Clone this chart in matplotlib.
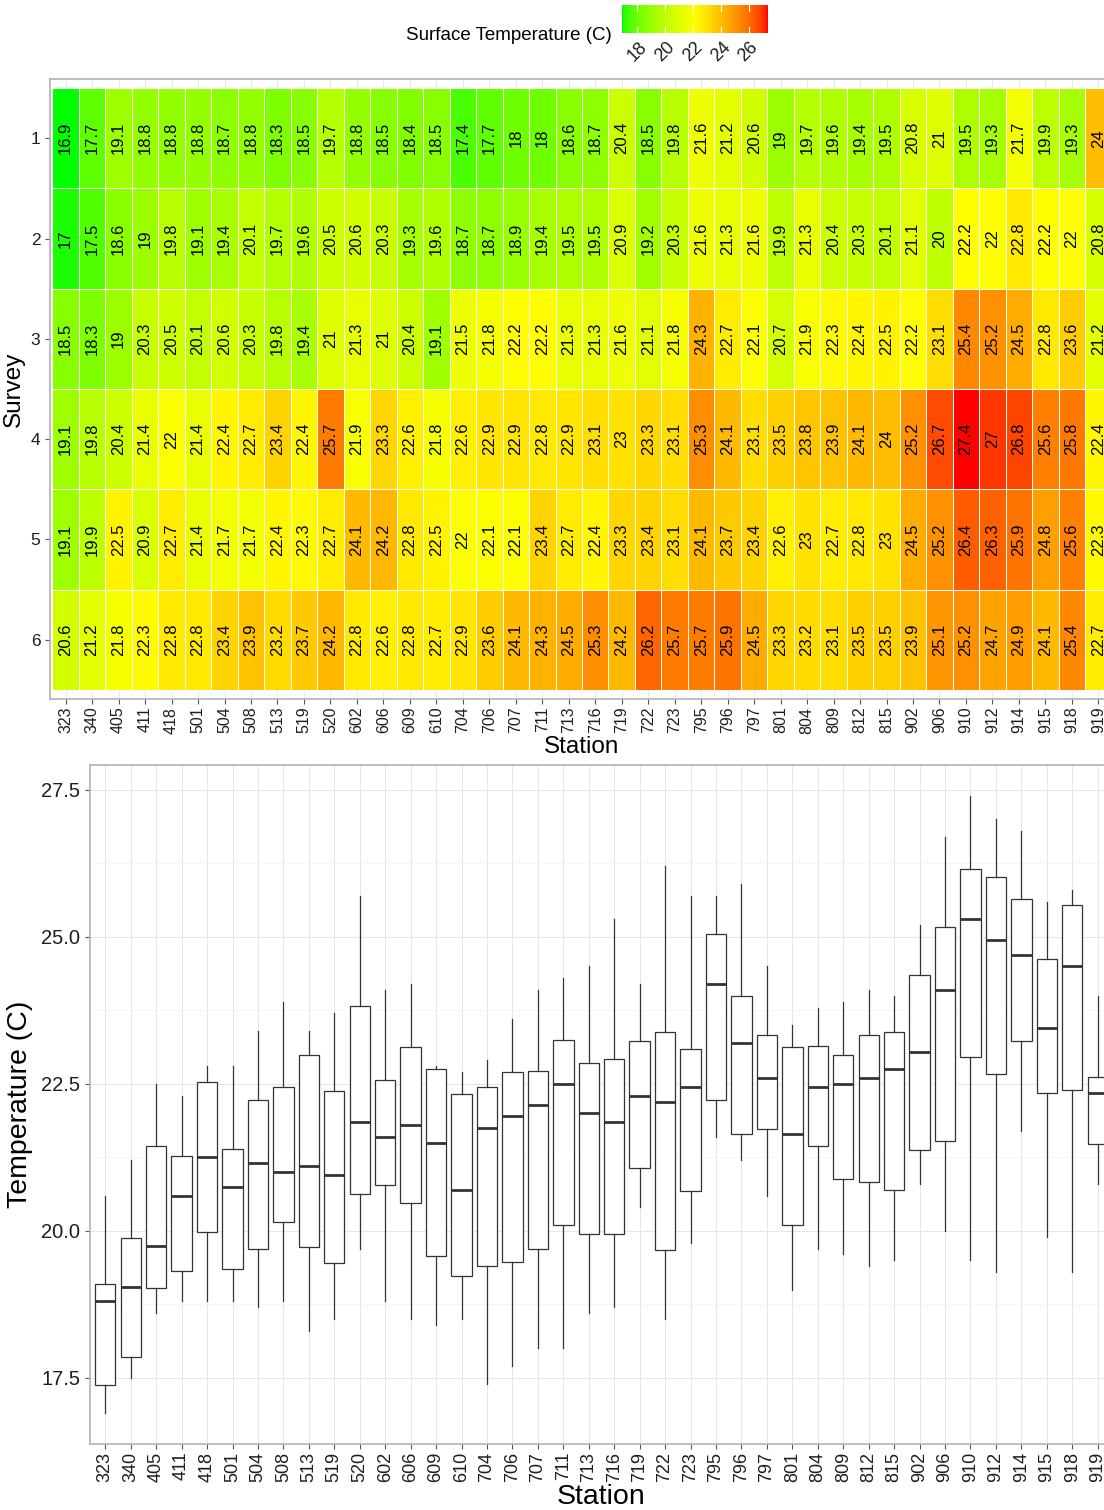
import numpy as np
import matplotlib
matplotlib.use("Agg")
import matplotlib.pyplot as plt
from matplotlib.colors import ListedColormap, to_rgb

plt.rcParams["font.family"] = ["Liberation Sans", "DejaVu Sans"]

stations = ["323", "340", "405", "411", "418", "501", "504", "508", "513", "519",
            "520", "602", "606", "609", "610", "704", "706", "707", "711", "713",
            "716", "719", "722", "723", "795", "796", "797", "801", "804", "809",
            "812", "815", "902", "906", "910", "912", "914", "915", "918", "919"]
surveys = [1, 2, 3, 4, 5, 6]

survey1 = [16.9, 17.7, 19.1, 18.8, 18.8, 18.8, 18.7, 18.8, 18.3, 18.5,
           19.7, 18.8, 18.5, 18.4, 18.5, 17.4, 17.7, 18, 18, 18.6,
           18.7, 20.4, 18.5, 19.8, 21.6, 21.2, 20.6, 19, 19.7, 19.6,
           19.4, 19.5, 20.8, 21, 19.5, 19.3, 21.7, 19.9, 19.3, 24]
survey2 = [17, 17.5, 18.6, 19, 19.8, 19.1, 19.4, 20.1, 19.7, 19.6,
           20.5, 20.6, 20.3, 19.3, 19.6, 18.7, 18.7, 18.9, 19.4, 19.5,
           19.5, 20.9, 19.2, 20.3, 21.6, 21.3, 21.6, 19.9, 21.3, 20.4,
           20.3, 20.1, 21.1, 20, 22.2, 22, 22.8, 22.2, 22, 20.8]
survey3 = [18.5, 18.3, 19, 20.3, 20.5, 20.1, 20.6, 20.3, 19.8, 19.4,
           21, 21.3, 21, 20.4, 19.1, 21.5, 21.8, 22.2, 22.2, 21.3,
           21.3, 21.6, 21.1, 21.8, 24.3, 22.7, 22.1, 20.7, 21.9, 22.3,
           22.4, 22.5, 22.2, 23.1, 25.4, 25.2, 24.5, 22.8, 23.6, 21.2]
survey4 = [19.1, 19.8, 20.4, 21.4, 22, 21.4, 22.4, 22.7, 23.4, 22.4,
           25.7, 21.9, 23.3, 22.6, 21.8, 22.6, 22.9, 22.9, 22.8, 22.9,
           23.1, 23, 23.3, 23.1, 25.3, 24.1, 23.1, 23.5, 23.8, 23.9,
           24.1, 24, 25.2, 26.7, 27.4, 27, 26.8, 25.6, 25.8, 22.4]
survey5 = [19.1, 19.9, 22.5, 20.9, 22.7, 21.4, 21.7, 21.7, 22.4, 22.3,
           22.7, 24.1, 24.2, 22.8, 22.5, 22, 22.1, 22.1, 23.4, 22.7,
           22.4, 23.3, 23.4, 23.1, 24.1, 23.7, 23.4, 22.6, 23, 22.7,
           22.8, 23, 24.5, 25.2, 26.4, 26.3, 25.9, 24.8, 25.6, 22.3]
survey6 = [20.6, 21.2, 21.8, 22.3, 22.8, 22.8, 23.4, 23.9, 23.2, 23.7,
           24.2, 22.8, 22.6, 22.8, 22.7, 22.9, 23.6, 24.1, 24.3, 24.5,
           25.3, 24.2, 26.2, 25.7, 25.7, 25.9, 24.5, 23.3, 23.2, 23.1,
           23.5, 23.5, 23.9, 25.1, 25.2, 24.7, 24.9, 24.1, 25.4, 22.7]

temps = np.array([survey1, survey2, survey3, survey4, survey5, survey6])
tmin, tmax = temps.min(), temps.max()

# green -> yellow -> red, interpolated in CIE Lab
WHITE = np.array([0.95047, 1.0, 1.08883])
M = np.array([[0.4124, 0.3576, 0.1805],
              [0.2126, 0.7152, 0.0722],
              [0.0193, 0.1192, 0.9505]])


def to_lab(c):
    c = np.asarray(c, float)
    lin = np.where(c <= 0.04045, c / 12.92, ((c + 0.055) / 1.055) ** 2.4)
    xyz = M @ lin / WHITE
    f = np.where(xyz > 0.008856, np.cbrt(xyz), 7.787 * xyz + 16 / 116)
    return np.array([116 * f[1] - 16, 500 * (f[0] - f[1]), 200 * (f[1] - f[2])])


def from_lab(lab):
    L, a, b = lab
    fy = (L + 16) / 116
    f = np.array([fy + a / 500, fy, fy - b / 200])
    xyz = np.where(f ** 3 > 0.008856, f ** 3, (f - 16 / 116) / 7.787) * WHITE
    lin = np.clip(np.linalg.inv(M) @ xyz, 0, 1)
    return np.where(lin <= 0.0031308, 12.92 * lin, 1.055 * lin ** (1 / 2.4) - 0.055)


stops = [to_lab(to_rgb(c)) for c in ["#00ff00", "#ffff00", "#ff0000"]]
cols = []
for t in np.linspace(0, 1, 256):
    k = 0 if t < 0.5 else 1
    u = (t - 0.5 * k) / 0.5
    cols.append(np.clip(from_lab(stops[k] * (1 - u) + stops[k + 1] * u), 0, 1))
cmap = ListedColormap(cols)

W, H = 1104, 1510
fig = plt.figure(figsize=(W / 100, H / 100), dpi=100)


def px_axes(x0, y0, x1, y1):
    return fig.add_axes([x0 / W, 1 - y1 / H, (x1 - x0) / W, (y1 - y0) / H])


def style(ax):
    for s in ax.spines.values():
        s.set_color("#b3b3b3")
        s.set_linewidth(1.2)
    ax.tick_params(color="#555555", length=3.5, width=0.8, labelcolor="#1e1e1e")
    ax.set_axisbelow(True)


# ---- heatmap ----
hm_top, hm_bot = 79, 699
ax1 = px_axes(50, hm_top, 1114, hm_bot)
style(ax1)
xe = np.arange(len(stations) + 1) - 0.5
ye = np.arange(len(surveys) + 1) + 0.5
ax1.pcolormesh(xe, ye, temps, cmap=cmap, vmin=tmin, vmax=tmax,
               edgecolors="white", linewidth=0.7)
for i in range(len(surveys)):
    for j in range(len(stations)):
        ax1.text(j, surveys[i], f"{temps[i, j]:g}", rotation=90, ha="center",
                 va="center", fontsize=12, color="black")
ax1.set_xlim(-0.59, len(stations) - 0.41)
ax1.set_ylim(6.59, 0.41)
ax1.set_xticks(range(len(stations)))
ax1.set_xticklabels(stations, rotation=90, fontsize=11.5)
ax1.tick_params(axis="x", pad=2)
ax1.set_yticks(surveys)
ax1.set_yticklabels([str(s) for s in surveys], fontsize=12.5)
ax1.grid(True, color="#e4e4e4", linewidth=0.6)
ax1.set_xlabel("Station", fontsize=17.5, va="center")
ax1.xaxis.set_label_coords(0.5, -(747 - hm_bot) / (hm_bot - hm_top))
ax1.set_ylabel("Survey", fontsize=17.5, labelpad=4)

# ---- colour bar ----
cax = px_axes(622, 5, 768, 33)
grad = np.linspace(tmin, tmax, 300)[None, :]
cax.imshow(grad, cmap=cmap, vmin=tmin, vmax=tmax, aspect="auto",
           extent=[tmin, tmax, 0, 1])
for s in cax.spines.values():
    s.set_visible(False)
cax.set_yticks([])
cbar_ticks = [18, 20, 22, 24, 26]
for t in cbar_ticks:
    cax.plot([t, t], [0, 0.2], color="white", lw=0.8)
    cax.plot([t, t], [0.8, 1], color="white", lw=0.8)
cax.set_xlim(tmin, tmax)
cax.set_ylim(0, 1)
cax.set_xticks(cbar_ticks)
cax.set_xticklabels([str(t) for t in cbar_ticks], rotation=45, ha="center",
                    fontsize=13, color="#1e1e1e")
cax.tick_params(length=0, pad=4)
fig.text(612 / W, 1 - 36 / H, "Surface Temperature (C)", ha="right",
         va="center", fontsize=13.5)

# ---- box plot ----
bx_top, bx_bot = 765, 1444
ax2 = px_axes(90, bx_top, 1113, bx_bot)
style(ax2)
ax2.boxplot([temps[:, j] for j in range(len(stations))],
            positions=range(len(stations)), widths=0.8, patch_artist=True,
            showcaps=False,
            boxprops=dict(facecolor="white", edgecolor="#333333", linewidth=0.9),
            whiskerprops=dict(color="#333333", linewidth=0.9),
            medianprops=dict(color="#333333", linewidth=2),
            flierprops=dict(marker="o", markerfacecolor="#333333",
                            markeredgecolor="#333333", markersize=3))
pad = 0.05 * (tmax - tmin)
ax2.set_ylim(tmin - pad, tmax + pad)
ax2.set_xlim(-0.6, len(stations) - 0.4)
ax2.set_xticks(range(len(stations)))
ax2.set_xticklabels(stations, rotation=90, fontsize=13)
ax2.tick_params(axis="x", pad=2)
ax2.set_yticks([17.5, 20.0, 22.5, 25.0, 27.5])
ax2.set_yticklabels(["17.5", "20.0", "22.5", "25.0", "27.5"], fontsize=14.5)
ax2.set_yticks([18.75, 21.25, 23.75, 26.25], minor=True)
ax2.tick_params(axis="y", which="minor", length=0)
ax2.grid(True, which="major", color="#e6e6e6", linewidth=0.7)
ax2.grid(True, which="minor", axis="y", color="#f2f2f2", linewidth=0.5)
ax2.set_xlabel("Station", fontsize=20.5, va="center")
ax2.xaxis.set_label_coords(0.5, -(1497 - bx_bot) / (bx_bot - bx_top))
ax2.set_ylabel("Temperature (C)", fontsize=20.5, labelpad=6)

fig.savefig("out.png", dpi=100)
